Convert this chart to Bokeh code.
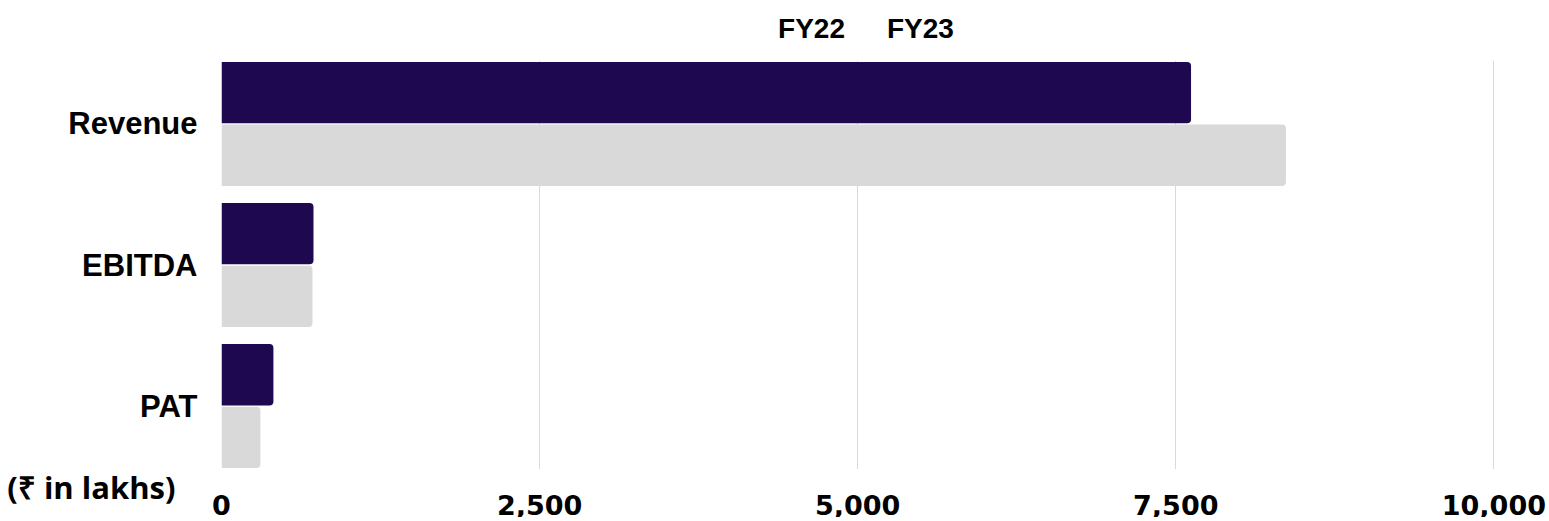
from bokeh.plotting import figure
from bokeh.layouts import column
from bokeh.models import ColumnDataSource, FixedTicker, Legend, LegendItem, Range1d, NumeralTickFormatter
from bokeh.embed import file_html
from bokeh.resources import INLINE

categories = ["Revenue", "EBITDA", "PAT"]
fy22 = [7620, 723, 408]
fy23 = [8366, 715, 306]
x_ticks = [0, 2500, 5000, 7500, 10000]
unit_label = "(₹ in lakhs)"

c22 = "#1e0850"
c23 = "#d9d9d9"

# layout geometry (pixels)
W = 1549
LEFT = 221
FRAME_W = 1273
RIGHT = W - LEFT - FRAME_W
X_MAX = 10005

pos = [len(categories) - 1 - i for i in range(len(categories))]
src = ColumnDataSource(dict(
    cat=categories,
    y22=[p + 0.222 for p in pos],
    y23=[p - 0.222 for p in pos],
    fy22=fy22,
    fy23=fy23,
))

xr = Range1d(0, X_MAX)

# main chart
p = figure(frame_width=FRAME_W, frame_height=409, output_backend="svg", toolbar_location=None,
           x_range=xr, y_range=Range1d(-0.45, 2.45), x_axis_location=None,
           min_border_left=LEFT, min_border_right=RIGHT, min_border_top=10, min_border_bottom=0)
p.outline_line_color = None

r22 = p.hbar(y="y22", right="fy22", left=0, height=0.435, source=src, fill_color=c22,
             line_color=None, border_radius=(0, 4, 4, 0))
r23 = p.hbar(y="y23", right="fy23", left=0, height=0.435, source=src, fill_color=c23,
             line_color=None, border_radius=(0, 4, 4, 0))

p.yaxis.ticker = FixedTicker(ticks=pos)
p.yaxis.major_label_overrides = {pp: c for pp, c in zip(pos, categories)}
p.yaxis.axis_line_color = None
p.yaxis.major_tick_line_color = None
p.yaxis.minor_tick_line_color = None
p.yaxis.major_tick_out = 0
p.yaxis.major_tick_in = 0
p.yaxis.major_label_text_font = "Liberation Sans"
p.yaxis.major_label_text_font_style = "bold"
p.yaxis.major_label_text_font_size = "31px"
p.yaxis.major_label_text_color = "black"
p.yaxis.major_label_standoff = 24

p.ygrid.grid_line_color = None
p.xgrid.ticker = FixedTicker(ticks=x_ticks)
p.xgrid.grid_line_color = "#d9d9d9"
p.xgrid.grid_line_width = 1

# bottom strip: value axis + unit label (shares the main chart's x range)
bt = figure(frame_width=FRAME_W, frame_height=37, output_backend="svg", toolbar_location=None,
            x_range=xr, y_range=Range1d(-0.02, 1),
            min_border_left=LEFT, min_border_right=RIGHT, min_border_top=0, min_border_bottom=0)
bt.outline_line_color = None
bt.grid.grid_line_color = None
bt.xaxis.ticker = FixedTicker(ticks=x_ticks)
bt.xaxis.formatter = NumeralTickFormatter(format="0,0")
bt.xaxis.axis_line_color = None
bt.xaxis.major_tick_line_color = None
bt.xaxis.minor_tick_line_color = None
bt.xaxis.major_tick_out = 0
bt.xaxis.major_tick_in = 0
bt.xaxis.major_label_text_font = "DejaVu Sans"
bt.xaxis.major_label_text_font_style = "bold"
bt.xaxis.major_label_text_font_size = "27px"
bt.xaxis.major_label_text_color = "black"
bt.xaxis.major_label_standoff = -12

bt.yaxis.ticker = FixedTicker(ticks=[0])
bt.yaxis.major_label_overrides = {0: unit_label}
bt.yaxis.axis_line_color = None
bt.yaxis.major_tick_line_color = None
bt.yaxis.minor_tick_line_color = None
bt.yaxis.major_tick_out = 0
bt.yaxis.major_tick_in = 0
bt.yaxis.major_label_text_font = "Open Sans"
bt.yaxis.major_label_text_font_style = "bold"
bt.yaxis.major_label_text_font_size = "31px"
bt.yaxis.major_label_text_color = "black"
bt.yaxis.major_label_standoff = 46

# legend strip on top (empty proxy renderers carry the legend swatches)
lg = figure(width=W, height=50, output_backend="svg", toolbar_location=None,
            x_range=Range1d(0, 1), y_range=Range1d(0, 1),
            x_axis_location=None, y_axis_location=None,
            min_border_left=LEFT, min_border_right=RIGHT, min_border_top=8, min_border_bottom=0)
lg.outline_line_color = None
lg.grid.grid_line_color = None
l22 = lg.hbar(y=[], right=[], left=0, height=0.4, fill_color=c22, line_color=None)
l23 = lg.hbar(y=[], right=[], left=0, height=0.4, fill_color=c23, line_color=None)
legend = Legend(items=[LegendItem(label="FY22", renderers=[l22]),
                       LegendItem(label="FY23", renderers=[l23])],
                orientation="horizontal", location="center",
                glyph_width=8, glyph_height=8, label_standoff=9, spacing=25,
                padding=0, margin=0, border_line_color=None, background_fill_alpha=0,
                label_text_font="Liberation Sans", label_text_font_style="bold",
                label_text_font_size="28px", label_text_color="black")
lg.add_layout(legend)

layout = column(lg, p, bt, spacing=0)
open("out.html", "w").write(file_html(layout, INLINE))
